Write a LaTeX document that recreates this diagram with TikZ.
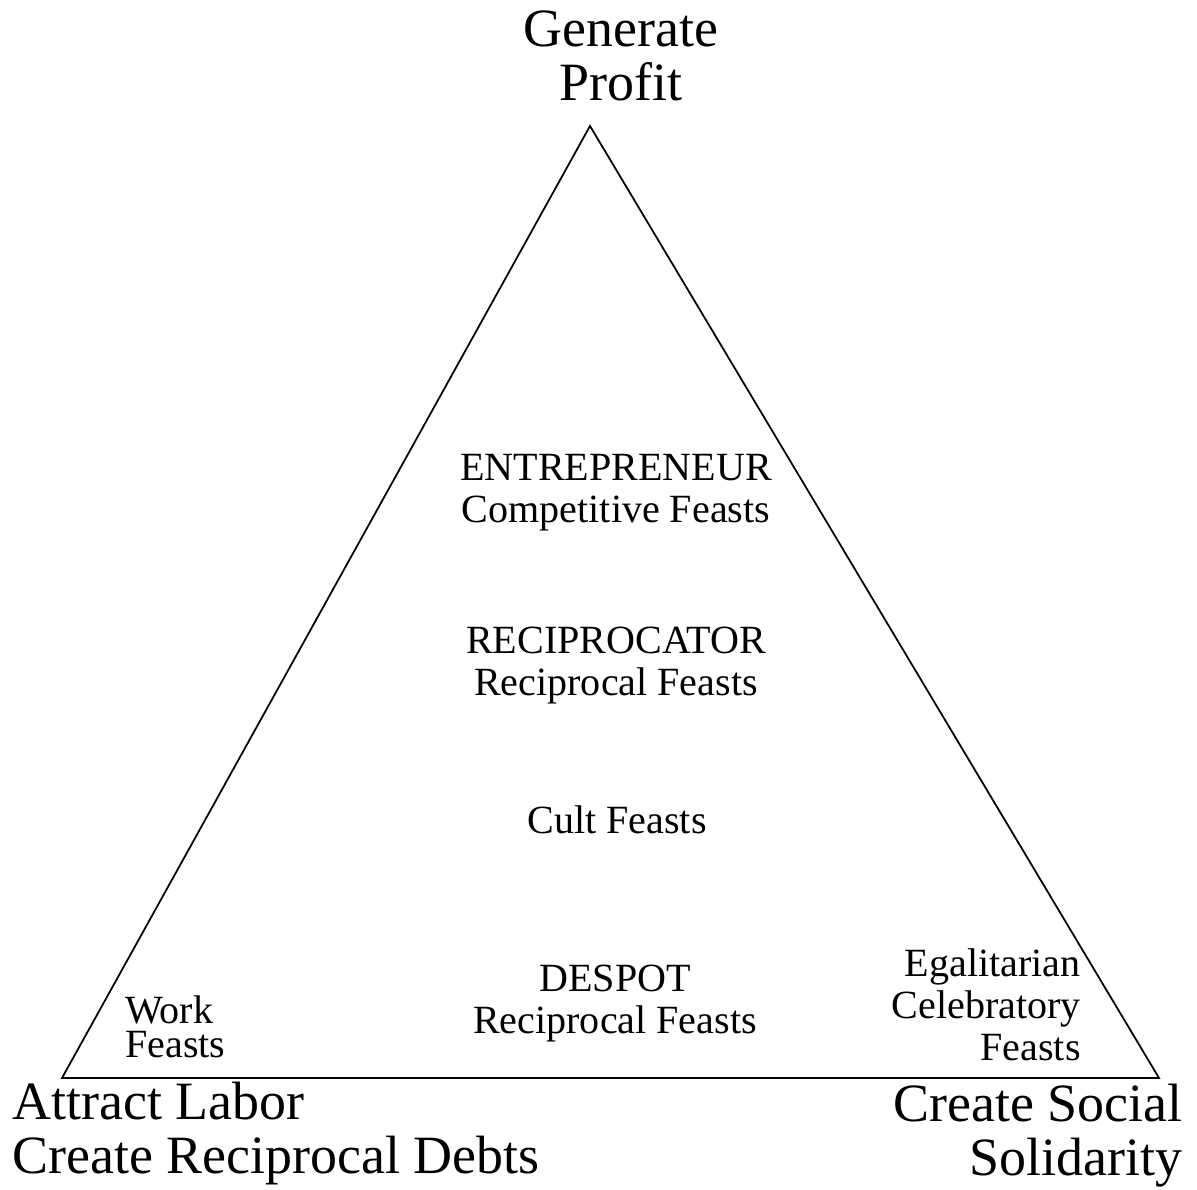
\documentclass[tikz,border=0pt]{standalone}
\usepackage{fontspec}
\setmainfont{Liberation Serif}
\usetikzlibrary{positioning}

\tikzset{
  goal/.style={font=\fontsize{30.7}{30.2}\selectfont, inner sep=0pt},
  feast/.style={font=\fontsize{22.8}{23.9}\selectfont, inner sep=0pt},
}

\begin{document}
\begin{tikzpicture}[x=0.02cm,y=-0.02cm]
\useasboundingbox (0,0) rectangle (1197,1190);
\coordinate (apex) at (590,126);
\coordinate (labor corner) at (62,1078);
\coordinate (social corner) at (1159,1078);
\draw[line width=1pt] (apex) -- (labor corner) -- (social corner) -- cycle;

% goals at the corners (base = last line)
\node[goal,anchor=base,align=center] (profit) at (621,100) {Generate\\Profit};
\node[goal,anchor=base west,align=left] (labor) at (12,1173) {Attract Labor\\Create Reciprocal Debts};
\node[goal,anchor=base east,align=right] (social) at (1183,1175) {Create Social\\Solidarity};

% feast types
\node[feast,anchor=base,align=center] (entrepreneur) at (616,522) {ENTREPRENEUR\\Competitive Feasts};
\node[feast,anchor=base,align=center] (reciprocator) at (616,695) {RECIPROCATOR\\Reciprocal Feasts};
\node[feast,anchor=base,align=center] (cult) at (617,833) {Cult Feasts};
\node[feast,anchor=base,align=center] (despot) at (615,1033) {DESPOT\\Reciprocal Feasts};
\node[feast,anchor=base west,align=left,font=\fontsize{22.8}{19.3}\selectfont] (work) at (125,1057) {Work\\Feasts};
\node[feast,anchor=base east,align=right] (egalitarian) at (1081,1060) {Egalitarian\\Celebratory\\Feasts};
\end{tikzpicture}
\end{document}
